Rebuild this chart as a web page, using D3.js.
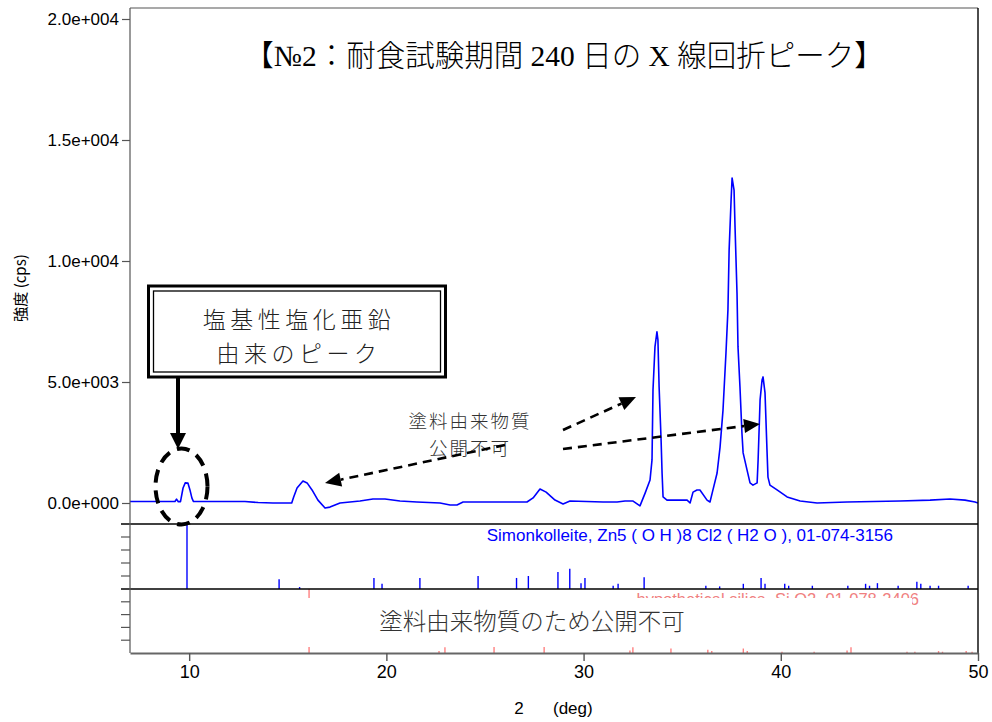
<!DOCTYPE html>
<html><head><meta charset="utf-8">
<script src="https://cdn.jsdelivr.net/npm/d3@7"></script>
<style>body{margin:0;background:#fff}svg{display:block}</style>
</head><body><svg id="c" width="992" height="722"></svg>
<script>
// ---- data ----
const twoTheta = [7.00,9.28,9.36,9.45,9.56,9.69,9.80,9.94,10.04,10.14,10.22,12.83,13.50,14.25,15.20,15.30,15.47,15.77,15.98,16.23,16.53,16.89,17.14,17.65,18.66,19.32,19.93,20.69,21.55,22.72,23.23,23.58,23.89,27.13,27.44,27.79,28.10,28.55,28.96,29.31,30.99,31.70,32.10,32.51,32.86,33.12,33.37,33.47,33.52,33.62,33.72,33.77,33.83,33.93,33.98,34.03,34.23,35.25,35.40,35.55,35.75,35.90,36.26,36.41,36.56,36.77,36.92,37.07,37.22,37.32,37.38,37.48,37.53,37.63,37.68,37.78,37.83,37.93,38.03,38.09,38.29,38.44,38.59,38.80,38.85,38.95,39.05,39.10,39.20,39.30,39.35,39.45,39.81,40.32,40.98,41.84,43.36,46.05,47.57,48.58,49.34,49.85,50.00];
const intensity = [60,60,160,55,55,620,830,820,540,200,60,60,20,0,0,250,620,910,830,540,120,-210,-170,0,80,165,165,80,40,0,-80,-80,40,40,210,580,450,120,-40,80,40,40,80,80,-120,410,950,1780,4670,6450,7070,6740,4790,2600,1240,250,120,120,0,450,540,540,120,40,540,1240,2310,3840,6200,7980,10450,12520,13430,12930,11400,8680,6450,4790,2890,2070,1360,830,740,830,1780,4260,5080,5210,4550,2190,1070,740,540,250,80,0,40,80,120,165,120,40,0];

const simonPos = [9.89,14.56,15.60,19.37,19.78,21.70,24.65,26.60,27.20,28.70,29.30,29.87,30.07,31.50,31.75,33.07,36.20,36.90,38.10,39.00,39.20,40.20,40.40,41.60,43.40,44.30,44.50,44.90,45.95,46.90,47.10,47.57,48.00,49.50];
const simonInt = [100,15,3,17,8,17,20,17,20,26,31,9,17,5,8,18,5,4,8,17,8,8,5,5,5,8,5,9,5,11,8,5,5,5];
const silicaPos = [16.08,22.67,22.97,25.46,28.00,32.35,32.50,34.43,36.30,36.50,38.10,38.30,40.06,41.69,43.36,43.56,46.40,46.80,48.00,48.20,49.40,49.70];
const silicaInt = [100,3,9,10,10,4,9,7,5,3,7,3,2,2,4,9,2,2,3,2,3,2];

const xTicks = [10,20,30,40,50];
const yTicks = [0,5000,10000,15000,20000];
const simonLabel = "Simonkolleite, Zn5 ( O H )8 Cl2 ( H2 O ), 01-074-3156";
const silicaLabel = "hypothetical silica, Si O2, 01-078-2406";
const titleText = "【№2：耐食試験期間 240 日の X 線回折ピーク】";
const boxLines = ["塩基性塩化亜鉛","由来のピーク"];
const noteLines = ["塗料由来物質","公開不可"];
const redactText = "塗料由来物質のため公開不可";

// ---- layout ----
const L = 130, R = 978, T = 8, mainB = 524, p2B = 589, p3B = 653;
const svg = d3.select("#c");
const sans = "'Liberation Sans', Arial, sans-serif";
const cjk = "'Noto Sans CJK JP', sans-serif";

const x = d3.scaleLinear().domain([7,50]).range([L,R]);
const y = d3.scaleLinear().domain([0,20000]).range([503,19]);
const yS = d3.scaleLinear().domain([0,100]).range([p2B, mainB]);
const yQ = d3.scaleLinear().domain([0,100]).range([p3B, p2B]);

svg.append("rect").attr("width",992).attr("height",722).attr("fill","#fff");

const defs = svg.append("defs");
defs.append("clipPath").attr("id","cm").append("rect").attr("x",L).attr("y",T).attr("width",R-L).attr("height",mainB-T);

// main curve
const pts = twoTheta.map((t,i)=>[t,intensity[i]]);
svg.append("path").attr("clip-path","url(#cm)")
  .attr("d", d3.line().x(d=>x(d[0])).y(d=>y(d[1])).curve(d3.curveLinear)(pts))
  .attr("fill","none").attr("stroke","#0000ff").attr("stroke-width",1.6).attr("stroke-linejoin","round");

// simonkolleite sticks
svg.append("g").selectAll("line").data(simonPos).join("line")
  .attr("x1",d=>x(d)).attr("x2",d=>x(d))
  .attr("y1",yS(0)).attr("y2",(d,i)=>yS(simonInt[i]))
  .attr("stroke","#0000ff").attr("stroke-width",1.4);

// silica sticks
svg.append("g").selectAll("line").data(silicaPos).join("line")
  .attr("x1",d=>x(d)).attr("x2",d=>x(d))
  .attr("y1",yQ(0)).attr("y2",(d,i)=>yQ(silicaInt[i]))
  .attr("stroke","#ff8080").attr("stroke-width",1.4);

// labels in panels
svg.append("text").attr("x",893).attr("y",541).attr("text-anchor","end")
  .attr("font-family",sans).attr("font-size",17).attr("fill","#0000ff").text(simonLabel);
svg.append("text").attr("x",919).attr("y",604.5).attr("text-anchor","end")
  .attr("font-family",sans).attr("font-size",16.5).attr("fill","#f08080").text(silicaLabel);

// redaction box
svg.append("rect").attr("x",L+1.5).attr("y",598).attr("width",912-L-1.5).attr("height",647-598).attr("fill","#fff");
svg.append("text").attr("x",532).attr("y",630).attr("text-anchor","middle")
  .attr("font-family",cjk).attr("font-weight",300).attr("font-size",23.5).attr("fill","#333").text(redactText);

// frame lines
svg.append("line").attr("x1",L).attr("x2",R).attr("y1",T).attr("y2",T).attr("stroke","#555").attr("stroke-width",1.2);
svg.append("line").attr("x1",R).attr("x2",R).attr("y1",T).attr("y2",p3B).attr("stroke","#000").attr("stroke-width",1.4);
[mainB,p2B].forEach(v=>svg.append("line").attr("x1",L-9).attr("x2",R).attr("y1",v).attr("y2",v).attr("stroke","#000").attr("stroke-width",1.4));

// panel minor ticks
[1,2,3,4].forEach(k=>{
  svg.append("line").attr("x1",L-9).attr("x2",L).attr("y1",yS(k*20)).attr("y2",yS(k*20)).attr("stroke","#555").attr("stroke-width",1.2);
  svg.append("line").attr("x1",L-9).attr("x2",L).attr("y1",yQ(k*20)).attr("y2",yQ(k*20)).attr("stroke","#555").attr("stroke-width",1.2);
});

// axes
const fmt = d=>{ if(d===0) return "0.0e+000"; const e=Math.floor(Math.log10(d)); return (d/Math.pow(10,e)).toFixed(1)+"e+"+String(e).padStart(3,"0"); };
const ya = svg.append("g").attr("transform",`translate(${L},0)`)
  .call(d3.axisLeft(y).tickValues(yTicks).tickFormat(fmt).tickSize(8).tickSizeOuter(0).tickPadding(3));
ya.select(".domain").remove();
svg.append("line").attr("x1",L).attr("x2",L).attr("y1",T).attr("y2",p3B).attr("stroke","#555").attr("stroke-width",1.2);
ya.selectAll("line").attr("stroke","#555").attr("stroke-width",1.2);
ya.selectAll("text").attr("font-family",sans).attr("font-size",17).attr("fill","#000");

const xa = svg.append("g").attr("transform",`translate(0,${p3B})`)
  .call(d3.axisBottom(x).tickValues(xTicks).tickFormat(d3.format("d")).tickSize(8).tickSizeOuter(0).tickPadding(4));
xa.select(".domain").attr("stroke","#666").attr("stroke-width",2);
xa.selectAll("line").attr("stroke","#555").attr("stroke-width",1.4);
xa.selectAll("text").attr("font-family",sans).attr("font-size",18).attr("fill","#000");

// axis titles
svg.append("text").attr("x",519).attr("y",714).attr("text-anchor","middle").attr("font-family",sans).attr("font-size",17).text("2");
svg.append("text").attr("x",553).attr("y",714).attr("font-family",sans).attr("font-size",17).text("(deg)");
svg.append("text").attr("transform","translate(26,288) rotate(-90)").attr("text-anchor","middle")
  .attr("font-family",cjk).attr("font-size",15).text("強度 (cps)");

// title
svg.append("text").attr("x",564).attr("y",66).attr("text-anchor","middle")
  .attr("font-family","'Liberation Serif', 'Noto Sans CJK JP', serif").attr("font-weight",300).attr("font-size",29.5).attr("fill","#000").text(titleText);

// annotation box
svg.append("rect").attr("x",148.5).attr("y",286).attr("width",297).attr("height",91).attr("fill","#fff").attr("stroke","#000").attr("stroke-width",3);
svg.append("rect").attr("x",153.5).attr("y",291).attr("width",287).attr("height",81).attr("fill","none").attr("stroke","#000").attr("stroke-width",1.3);
boxLines.forEach((t,i)=>svg.append("text").attr("x",299).attr("y",328+i*34).attr("text-anchor","middle")
  .attr("font-family",cjk).attr("font-weight",300).attr("font-size",23).attr("letter-spacing",4.5).attr("fill","#222").text(t));

// solid arrow
svg.append("line").attr("x1",178).attr("x2",178).attr("y1",378).attr("y2",436).attr("stroke","#000").attr("stroke-width",4);
svg.append("path").attr("d","M170,433 L186,433 L178,449 Z").attr("fill","#000");

// dashed ellipse
svg.append("ellipse").attr("cx",181.5).attr("cy",486.5).attr("rx",26).attr("ry",38)
  .attr("fill","none").attr("stroke","#000").attr("stroke-width",4).attr("stroke-dasharray","13,8");

// note text
noteLines.forEach((t,i)=>svg.append("text").attr("x",470).attr("y",428+i*27).attr("text-anchor","middle")
  .attr("font-family",cjk).attr("font-weight",300).attr("font-size",18.5).attr("letter-spacing",2).attr("fill","#333").text(t));

// dashed arrows
function dashArrow(x1,y1,x2,y2){
  const dx=x2-x1, dy=y2-y1, len=Math.hypot(dx,dy), ux=dx/len, uy=dy/len, hl=16, hw=7;
  const bx=x2-ux*hl, by=y2-uy*hl;
  svg.append("line").attr("x1",x1).attr("y1",y1).attr("x2",bx).attr("y2",by)
    .attr("stroke","#000").attr("stroke-width",2.6).attr("stroke-dasharray","9,6");
  svg.append("path").attr("d",`M${x2},${y2} L${bx-uy*hw},${by+ux*hw} L${bx+uy*hw},${by-ux*hw} Z`).attr("fill","#000");
}
dashArrow(505,445,325,483);
dashArrow(563,430,636,397);
dashArrow(563,449,760,424);
</script></body></html>
